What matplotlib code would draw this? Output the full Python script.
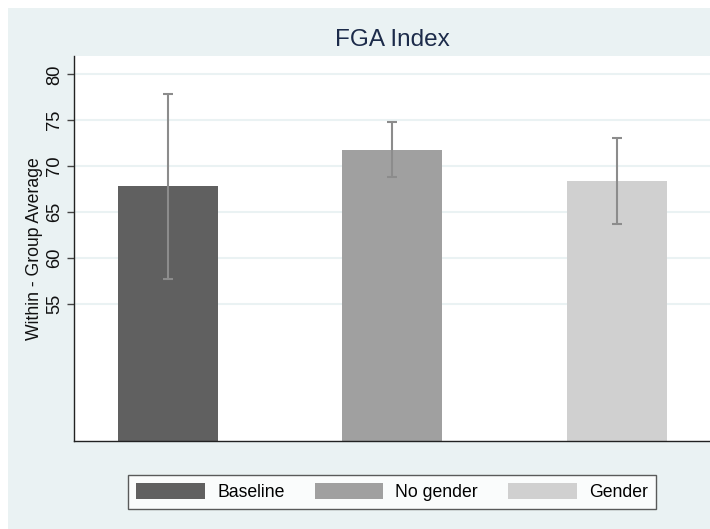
import matplotlib
matplotlib.use("Agg")
import matplotlib.pyplot as plt
from matplotlib.patches import Rectangle

# Data
groups = ["Baseline", "No gender", "Gender"]
means = [67.8, 71.8, 68.4]
err_low = [57.7, 68.8, 63.7]
err_high = [77.9, 74.85, 73.1]
yticks = [55, 60, 65, 70, 75, 80]
title = "FGA Index"
ylabel = "Within - Group Average"

colors = ["#606060", "#a0a0a0", "#d0d0d0"]
bg = "#eaf2f3"

plt.rcParams['font.family'] = ['Liberation Sans', 'DejaVu Sans']

W, H = 710, 529
fig = plt.figure(figsize=(W / 100, H / 100), dpi=100)
fig.patch.set_facecolor("white")
fig.patches.append(Rectangle((8 / W, 0.0), 1 - 8 / W, (H - 8) / H,
                             transform=fig.transFigure, facecolor=bg,
                             edgecolor="none", zorder=-10))

ax = fig.add_axes([74 / W, 1 - 441 / H, 1 - 74 / W, (441 - 56) / H])
ax.set_facecolor("white")

x = [1, 2, 3]
bars = []
for i in range(3):
    b = ax.bar(x[i], means[i], width=100 / 224.5, color=colors[i],
               label=groups[i], zorder=2)
    bars.append(b)
yerr = [[m - lo for m, lo in zip(means, err_low)],
        [hi - m for m, hi in zip(means, err_high)]]
ax.errorbar(x, means, yerr=yerr, fmt="none", ecolor="#8c8c8c",
            elinewidth=1.5, capsize=3.6, capthick=1.5, zorder=3)

ax.set_ylim(40, 82)
ax.set_xlim(1 - 94 / 224.5, 3 + 93 / 224.5)
ax.set_yticks(yticks)
ax.set_yticklabels([str(t) for t in yticks], rotation=90, va="center",
                   fontsize=13.2, color="#111111")
ax.set_xticks([])
ax.yaxis.grid(True, color=bg, linewidth=1.5, zorder=0)
ax.set_axisbelow(True)
for s in ["top", "right"]:
    ax.spines[s].set_visible(False)
ax.spines["left"].set_color("#222222")
ax.spines["bottom"].set_color("#222222")
ax.spines["left"].set_linewidth(1.0)
ax.spines["bottom"].set_linewidth(1.0)
ax.tick_params(axis="y", length=5, width=1, color="#444444", pad=3)

ax.set_ylabel(ylabel, fontsize=12.7, color="#111111")
ax.yaxis.set_label_coords(-31 / (W - 74), 0.5)

fig.text(392 / W, 1 - 40 / H, title, ha="center", va="center",
         fontsize=17.5, color="#1c2b4a")

leg = fig.legend(handles=[b[0] for b in bars], labels=groups, ncol=3,
                 loc="center", bbox_to_anchor=(392 / W, 1 - 492 / H),
                 fontsize=12.7, frameon=True, fancybox=False,
                 handlelength=3.9, handleheight=1.0, handletextpad=0.68,
                 columnspacing=1.7, borderpad=0.45, borderaxespad=0)
leg.get_frame().set_edgecolor("#333333")
leg.get_frame().set_linewidth(1.0)
leg.get_frame().set_facecolor("white")

fig.savefig("out.png", dpi=100, facecolor=fig.get_facecolor())
